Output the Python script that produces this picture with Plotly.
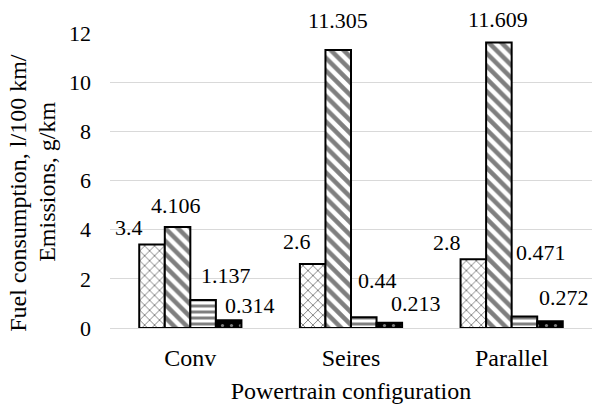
import plotly.graph_objects as go

categories = ["Conv", "Seires", "Parallel"]
series_a = [3.4, 2.6, 2.8]
series_b = [4.106, 11.305, 11.609]
series_c = [1.137, 0.44, 0.471]
series_d = [0.314, 0.213, 0.272]
label_texts = [["3.4", "2.6", "2.8"],
               ["4.106", "11.305", "11.609"],
               ["1.137", "0.44", "0.471"],
               ["0.314", "0.213", "0.272"]]
y_ticks = [0, 2, 4, 6, 8, 10, 12]
y_title_lines = ["Fuel consumption, l/100 km/", "Emissions, g/km"]
x_title = "Powertrain configuration"

# label offsets (pixels) relative to category center / bar top
label_xshift = [[-61, -54, -65], [-14, -13.5, -13.5], [36, 26, 29], [60, 65, 52]]
label_yshift = [[17, 23, 17], [22, 30, 23], [25, 37, 64], [15, 19, 24]]
# y title line placement (paper coords)
y_title_pos = [(-0.191, 0.458), (-0.131, 0.495)]

FONT = "'Liberation Serif', 'Times New Roman', serif"

styles = [
    dict(shape="x", fgcolor="black", bgcolor="white", size=7, solidity=0.25),
    dict(shape="\\", fgcolor="black", bgcolor="white", size=9, solidity=0.5),
    dict(shape="-", fgcolor="black", bgcolor="white", size=6, solidity=0.5),
    dict(shape=".", fgcolor="white", bgcolor="black", size=9, solidity=0.1),
]

fig = go.Figure()
all_series = [series_a, series_b, series_c, series_d]
for vals, st in zip(all_series, styles):
    fig.add_trace(go.Bar(
        x=categories, y=vals,
        marker=dict(color="white", line=dict(color="black", width=2), pattern=st),
        showlegend=False, hoverinfo="skip",
    ))

for i, vals in enumerate(all_series):
    for j, cat in enumerate(categories):
        fig.add_annotation(
            x=cat, y=vals[j], xref="x", yref="y",
            text=label_texts[i][j], showarrow=False,
            xanchor="center", yanchor="middle",
            xshift=label_xshift[i][j], yshift=label_yshift[i][j],
            font=dict(family=FONT, size=22, color="black"),
        )

for line, (px, py) in zip(y_title_lines, y_title_pos):
    fig.add_annotation(
        x=px, y=py, xref="paper", yref="paper", text=line, showarrow=False,
        textangle=-90, xanchor="center", yanchor="middle",
        font=dict(family=FONT, size=24, color="black"),
    )

fig.update_layout(
    width=593, height=405,
    margin=dict(l=110, r=1, t=33, b=77),
    barmode="group", bargap=0.364, bargroupgap=0,
    plot_bgcolor="white", paper_bgcolor="white",
    font=dict(family=FONT, size=22, color="black"),
)
fig.update_yaxes(
    range=[0, 12], tickvals=y_ticks, showgrid=True, gridcolor="#d9d9d9", gridwidth=1,
    zeroline=False, showline=False, ticks="", ticklabelstandoff=18, automargin=False,
    tickfont=dict(family=FONT, size=22),
)
fig.update_xaxes(
    showline=True, linecolor="#d9d9d9", linewidth=1, ticks="", ticklabelstandoff=8,
    automargin=False, tickfont=dict(family=FONT, size=24),
    title=dict(text=x_title, standoff=12, font=dict(family=FONT, size=24)),
)

fig.write_html("out.html", post_script="document.body.style.margin='0';",
               config={"displayModeBar": False})
